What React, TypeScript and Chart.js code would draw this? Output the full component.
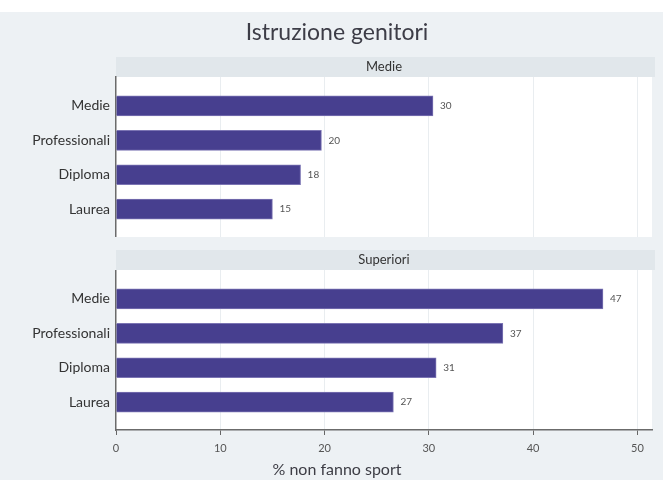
import React, { useEffect, useRef } from 'react';
import { Chart, registerables } from 'chart.js';

Chart.register(...registerables);

const TITLE = 'Istruzione genitori';
const X_TITLE = '% non fanno sport';
const PANELS = ['Medie', 'Superiori'];
const CATEGORIES = ['Medie', 'Professionali', 'Diploma', 'Laurea'];
const VALUES_MEDIE = [30.4, 19.7, 17.7, 15.0];
const VALUES_SUPERIORI = [46.7, 37.1, 30.7, 26.6];
const X_TICKS = [0, 10, 20, 30, 40, 50];
const X_MAX = 51.4;

// layout of the two stacked panels, in category-row units
const ROW_PAD = 0.84;
const PANEL_SPAN = 4.65;
const PANEL_GAP = 0.96;
const HEADER_H = 20;

const BG = '#edf1f4';
const HEADER_BG = '#e1e7eb';
const BAR = '#473f8f';
const BAR_EDGE = '#7b74b3';
const FONT = 'Lato';

const panelOffset = (k: number) => k * (PANEL_SPAN + PANEL_GAP);
const panelStart = (k: number) => panelOffset(k) - ROW_PAD;
const Y_MIN = panelStart(0);
const Y_MAX = panelStart(1) + PANEL_SPAN;
const positions = [0, 1].flatMap((k) => CATEGORIES.map((_, i) => panelOffset(k) + i));

const decor = {
  id: 'decor',
  beforeDraw(chart: any) {
    const { ctx, width, height, chartArea: ca, scales } = chart;
    const y = scales.y;
    ctx.save();
    ctx.fillStyle = '#ffffff';
    ctx.fillRect(0, 0, width, height);
    ctx.fillStyle = BG;
    ctx.fillRect(0, 12, width, height - 12);
    for (let k = 0; k < PANELS.length; k++) {
      const top = y.getPixelForValue(panelStart(k));
      const bottom = y.getPixelForValue(panelStart(k) + PANEL_SPAN);
      ctx.fillStyle = '#ffffff';
      ctx.fillRect(ca.left, top, ca.right - ca.left, bottom - top);
    }
    const top0 = y.getPixelForValue(panelStart(0));
    ctx.fillStyle = HEADER_BG;
    ctx.fillRect(ca.left, top0 - HEADER_H, ca.right - ca.left + 3, HEADER_H);
    ctx.fillStyle = '#333333';
    ctx.font = `13px ${FONT}`;
    ctx.textAlign = 'center';
    ctx.textBaseline = 'middle';
    ctx.fillText(PANELS[0], (ca.left + ca.right) / 2, top0 - HEADER_H / 2);
    ctx.restore();
  },
  beforeDatasetsDraw(chart: any) {
    const { ctx, chartArea: ca, scales } = chart;
    const y = scales.y;
    ctx.save();
    for (let k = 1; k < PANELS.length; k++) {
      const gapTop = y.getPixelForValue(panelStart(k - 1) + PANEL_SPAN);
      const gapBottom = y.getPixelForValue(panelStart(k));
      ctx.fillStyle = BG;
      ctx.fillRect(ca.left - 3, gapTop, ca.right - ca.left + 10, gapBottom - gapTop);
      ctx.fillStyle = HEADER_BG;
      ctx.fillRect(ca.left, gapBottom - HEADER_H, ca.right - ca.left + 3, HEADER_H);
      ctx.fillStyle = '#333333';
      ctx.font = `13px ${FONT}`;
      ctx.textAlign = 'center';
      ctx.textBaseline = 'middle';
      ctx.fillText(PANELS[k], (ca.left + ca.right) / 2, gapBottom - HEADER_H / 2);
    }
    ctx.restore();
  },
  afterDatasetsDraw(chart: any) {
    const { ctx } = chart;
    ctx.save();
    ctx.fillStyle = '#555555';
    ctx.font = `10px ${FONT}`;
    ctx.textAlign = 'left';
    ctx.textBaseline = 'middle';
    chart.data.datasets.forEach((ds: any, di: number) => {
      const meta = chart.getDatasetMeta(di);
      meta.data.forEach((bar: any, i: number) => {
        ctx.fillText(String(Math.round(ds.data[i].x)), bar.x + 7, bar.y);
      });
    });
    ctx.restore();
  },
  afterDraw(chart: any) {
    const { ctx, height } = chart;
    const tb = chart.titleBlock;
    const cx = tb ? (tb.left + tb.right) / 2 : chart.width / 2;
    ctx.save();
    ctx.fillStyle = '#3d3d45';
    ctx.font = `16px ${FONT}`;
    ctx.textAlign = 'center';
    ctx.textBaseline = 'middle';
    ctx.fillText(X_TITLE, cx, height - 10);
    ctx.restore();
  },
};

export default function App() {
  const ref = useRef<HTMLCanvasElement>(null);
  useEffect(() => {
    document.body.style.margin = '0';
    const canvas = ref.current;
    if (!canvas) return;
    const barStyle = {
      backgroundColor: BAR,
      borderColor: BAR_EDGE,
      borderWidth: 1,
      barThickness: 20,
      grouped: false,
    };
    const chart = new Chart(canvas, {
      type: 'bar',
      data: {
        datasets: [
          { label: PANELS[0], data: VALUES_MEDIE.map((v, i) => ({ x: v, y: panelOffset(0) + i })), ...barStyle },
          { label: PANELS[1], data: VALUES_SUPERIORI.map((v, i) => ({ x: v, y: panelOffset(1) + i })), ...barStyle },
        ],
      } as any,
      options: {
        indexAxis: 'y',
        animation: false,
        responsive: false,
        devicePixelRatio: 1,
        layout: { padding: { left: 22, right: 11, top: 0, bottom: 0 } },
        plugins: {
          legend: { display: false },
          tooltip: { enabled: false },
          title: {
            display: true,
            text: TITLE,
            color: '#3d3d47',
            font: { family: FONT, size: 23, weight: 'normal' },
            padding: { top: 19, bottom: 30.4 },
          },
        },
        scales: {
          x: {
            type: 'linear',
            position: 'bottom',
            min: 0,
            max: X_MAX,
            offset: false,
            afterBuildTicks: (s: any) => {
              s.ticks = X_TICKS.map((v) => ({ value: v }));
            },
            afterFit: (s: any) => {
              s.height = 50;
            },
            grid: {
              color: (c: any) => (c.tick && c.tick.value === 0 ? 'rgba(0,0,0,0)' : '#e9edf0'),
              tickColor: '#666666',
              tickLength: 5,
              lineWidth: 1,
            },
            border: { color: '#6b6b6b', width: 1.5 },
            ticks: { font: { family: FONT, size: 11 }, color: '#555555', padding: 7 },
          },
          y: {
            type: 'linear',
            reverse: true,
            offset: false,
            min: Y_MIN,
            max: Y_MAX,
            afterBuildTicks: (s: any) => {
              s.ticks = positions.map((v) => ({ value: v }));
            },
            afterFit: (s: any) => {
              s.width = 94;
            },
            grid: { display: false, drawTicks: false, offset: false },
            border: { color: '#6b6b6b', width: 1.5 },
            ticks: {
              font: { family: FONT, size: 14 },
              color: '#333333',
              padding: 6,
              callback: (_v: any, i: number) => CATEGORIES[i % CATEGORIES.length],
            },
          },
        },
      } as any,
      plugins: [decor],
    });
    return () => chart.destroy();
  }, []);
  return (
    <div style={{ width: 663, height: 480 }}>
      <canvas ref={ref} width={663} height={480} />
    </div>
  );
}
